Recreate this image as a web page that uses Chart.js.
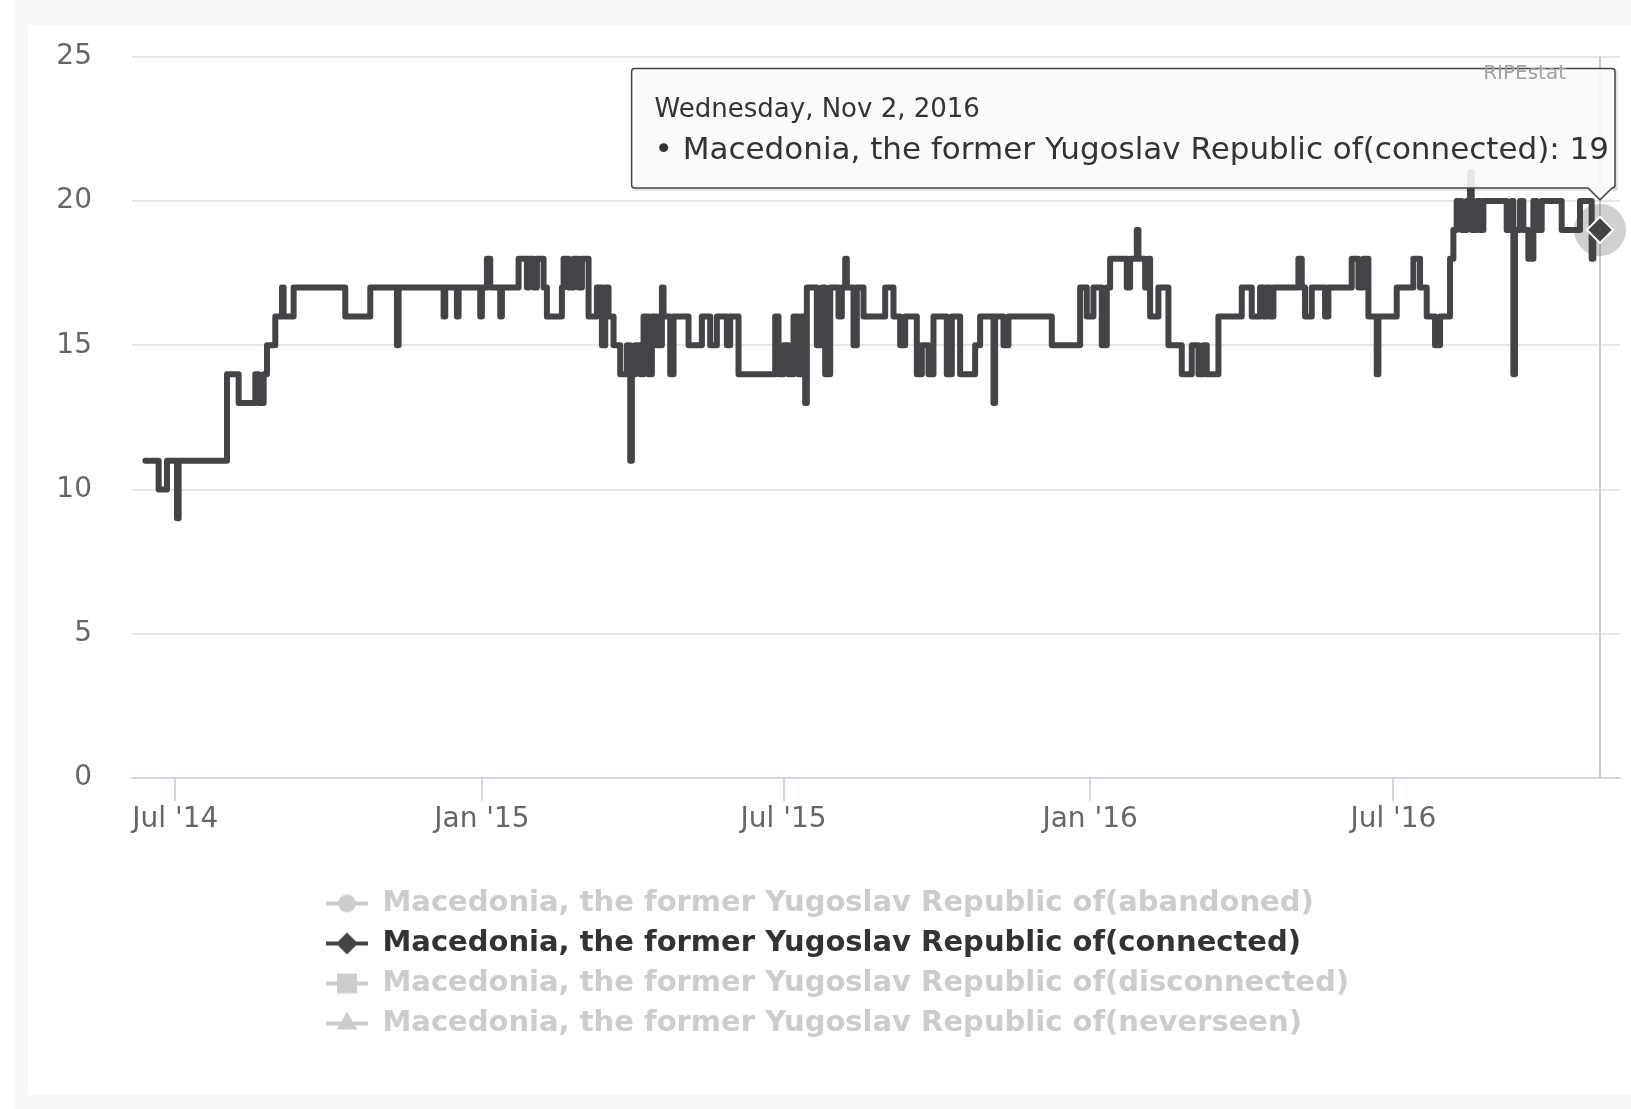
<!DOCTYPE html>
<html>
<head>
<meta charset="utf-8">
<title>Macedonia, the former Yugoslav Republic of - connected</title>
<script src="https://cdn.jsdelivr.net/npm/chart.js@4.4.1/dist/chart.umd.min.js"></script>
<style>
  html, body { margin: 0; padding: 0; background: #fff; overflow: hidden; }
  body { width: 1631px; height: 1109px; position: relative; }
  #frame { position: absolute; left: 15px; top: 0; width: 1700px; height: 1109px; background: #f8f8f8; }
  #panel { position: absolute; left: 28px; top: 25px; width: 1700px; height: 1070px; background: #fff; }
  #chart { position: absolute; left: 0; top: 0; }
</style>
</head>
<body>
<div id="frame"></div>
<div id="panel"></div>
<canvas id="chart" width="1631" height="1048"></canvas>
<script>
const FONT = '"DejaVu Sans", "Liberation Sans", sans-serif';

const seriesNames = [
    'Macedonia, the former Yugoslav Republic of(abandoned)',
    'Macedonia, the former Yugoslav Republic of(connected)',
    'Macedonia, the former Yugoslav Republic of(disconnected)',
    'Macedonia, the former Yugoslav Republic of(neverseen)'
];
const seriesColors = ['#7cb5ec', '#434348', '#90ed7d', '#f7a35c'];
const seriesMarkers = ['circle', 'rectRot', 'rect', 'triangle'];
const seriesHidden = [true, false, true, true];

// connected count: the date each value starts on (held until the next date)
const connectedDates = [
    '2014-06-13','2014-06-21','2014-06-26','2014-07-02','2014-07-03','2014-08-01','2014-08-08','2014-08-18',
    '2014-08-20','2014-08-23','2014-08-25','2014-08-30','2014-09-03','2014-09-04','2014-09-10','2014-10-11',
    '2014-10-26','2014-11-11','2014-11-12','2014-12-09','2014-12-10','2014-12-17','2014-12-18','2014-12-31',
    '2015-01-01','2015-01-04','2015-01-06','2015-01-12','2015-01-13','2015-01-23','2015-01-28','2015-01-29',
    '2015-02-01','2015-02-03','2015-02-07','2015-02-09','2015-02-18','2015-02-19','2015-02-22','2015-02-25',
    '2015-02-28','2015-03-02','2015-03-06','2015-03-11','2015-03-14','2015-03-16','2015-03-18','2015-03-21',
    '2015-03-25','2015-03-29','2015-03-31','2015-04-01','2015-04-03','2015-04-06','2015-04-08','2015-04-11',
    '2015-04-13','2015-04-16','2015-04-19','2015-04-20','2015-04-24','2015-04-26','2015-05-05','2015-05-13',
    '2015-05-18','2015-05-22','2015-05-28','2015-05-30','2015-06-04','2015-06-26','2015-06-28','2015-07-01',
    '2015-07-04','2015-07-07','2015-07-10','2015-07-12','2015-07-14','2015-07-15','2015-07-21','2015-07-24',
    '2015-07-26','2015-07-29','2015-08-03','2015-08-05','2015-08-07','2015-08-08','2015-08-12','2015-08-14',
    '2015-08-18','2015-08-31','2015-09-05','2015-09-09','2015-09-12','2015-09-19','2015-09-22','2015-09-26',
    '2015-09-29','2015-10-07','2015-10-10','2015-10-15','2015-10-24','2015-10-27','2015-11-04','2015-11-05',
    '2015-11-10','2015-11-13','2015-12-09','2015-12-26','2015-12-30','2016-01-03','2016-01-08','2016-01-11',
    '2016-01-13','2016-01-23','2016-01-25','2016-01-29','2016-01-30','2016-02-03','2016-02-05','2016-02-06',
    '2016-02-11','2016-02-17','2016-02-25','2016-03-02','2016-03-06','2016-03-09','2016-03-11','2016-03-18',
    '2016-04-01','2016-04-07','2016-04-12','2016-04-14','2016-04-16','2016-04-18','2016-04-20','2016-05-05',
    '2016-05-07','2016-05-09','2016-05-13','2016-05-21','2016-05-23','2016-06-06','2016-06-10','2016-06-13',
    '2016-06-16','2016-06-21','2016-06-22','2016-07-03','2016-07-13','2016-07-17','2016-07-21','2016-07-26',
    '2016-07-29','2016-08-04','2016-08-06','2016-08-08','2016-08-11','2016-08-14','2016-08-16','2016-08-17',
    '2016-08-20','2016-08-22','2016-08-24','2016-09-07','2016-09-10','2016-09-11','2016-09-12','2016-09-15',
    '2016-09-17','2016-09-20','2016-09-23','2016-09-25','2016-09-28','2016-10-10','2016-10-21','2016-10-28',
    '2016-10-29','2016-11-02'
];
const connectedValues = [
    11,10,11,9,11,14,13,14,
    13,14,15,16,17,16,17,16,
    17,15,17,16,17,16,17,16,
    17,18,17,16,17,18,17,18,
    17,18,17,16,17,18,17,18,
    17,18,16,17,15,17,16,15,
    14,15,11,14,15,14,16,14,
    16,15,17,16,14,16,15,16,
    15,16,15,16,14,16,14,15,
    14,16,14,16,13,17,15,17,
    14,17,16,17,18,17,15,17,
    16,17,16,15,16,14,15,14,
    16,14,16,14,15,16,13,16,
    15,16,15,17,16,17,15,17,
    18,17,18,19,18,17,18,16,
    17,15,14,15,14,15,14,16,
    17,16,17,16,17,16,17,18,
    17,16,17,16,17,18,17,18,
    16,14,16,17,18,17,16,15,
    16,18,19,20,19,20,21,19,
    20,19,20,19,20,14,19,20,
    19,18,20,19,20,19,20,18,
    19,19
];

const tickDates = ['2014-07-01', '2015-01-01', '2015-07-01', '2016-01-01', '2016-07-01'];
const tickLabels = ["Jul '14", "Jan '15", "Jul '15", "Jan '16", "Jul '16"];
const xRange = ['2014-06-05', '2016-11-14'];
const yRange = [0, 25];
const yStep = 5;

const dayNames = ['Sunday', 'Monday', 'Tuesday', 'Wednesday', 'Thursday', 'Friday', 'Saturday'];
const monthNames = ['Jan', 'Feb', 'Mar', 'Apr', 'May', 'Jun', 'Jul', 'Aug', 'Sep', 'Oct', 'Nov', 'Dec'];

const toTime = s => Date.parse(s + 'T00:00:00Z');

function fmtDate(t) {
    const d = new Date(t);
    return dayNames[d.getUTCDay()] + ', ' + monthNames[d.getUTCMonth()] + ' ' + d.getUTCDate() + ', ' + d.getUTCFullYear();
}

// little legend icon: a line with the series marker on it
function legendSymbol(style, color) {
    const c = document.createElement('canvas');
    c.width = 42; c.height = 26;
    const g = c.getContext('2d');
    g.fillStyle = color;
    g.strokeStyle = color;
    g.fillRect(0, 11, 42, 4);
    const radius = {circle: 9, rectRot: 11, rect: 14, triangle: 12}[style];
    Chart.helpers.drawPoint(g, {pointStyle: style, radius: radius, borderWidth: 0}, 21, 13);
    return c;
}

const datasets = seriesNames.map((name, i) => ({
    label: name,
    data: i === 1 ? connectedDates.map((d, k) => ({x: toTime(d), y: connectedValues[k]})) : [],
    hidden: seriesHidden[i],
    borderColor: seriesColors[i],
    backgroundColor: seriesColors[i],
    borderWidth: 6,
    borderJoinStyle: 'round',
    borderCapStyle: 'round',
    stepped: true,
    pointStyle: seriesMarkers[i],
    pointRadius: 0,
    pointHoverRadius: 13,
    pointHoverBackgroundColor: seriesColors[i],
    pointHoverBorderColor: '#ffffff',
    pointHoverBorderWidth: 2
}));

const legendLeft = {
    id: 'legendLeft',
    afterLayout(chart) {
        if (chart.legend) chart.legend.left = 315;
    }
};

const hoverDecor = {
    id: 'hoverDecor',
    beforeDatasetsDraw(chart) {
        const active = chart.getActiveElements();
        if (!active.length) return;
        const el = active[0].element;
        const {ctx, chartArea} = chart;
        ctx.save();
        ctx.strokeStyle = '#cccccc';
        ctx.lineWidth = 2;
        ctx.beginPath();
        ctx.moveTo(el.x, chartArea.top);
        ctx.lineTo(el.x, chartArea.bottom);
        ctx.stroke();
        ctx.restore();
    },
    afterDatasetsDraw(chart) {
        const active = chart.getActiveElements();
        if (!active.length) return;
        const el = active[0].element;
        const {ctx, chartArea} = chart;
        ctx.save();
        ctx.fillStyle = 'rgba(67,67,72,0.25)';
        ctx.beginPath();
        ctx.arc(el.x, el.y, 26, 0, Math.PI * 2);
        ctx.fill();
        ctx.restore();
        el.draw(ctx, chartArea);
    },
    beforeTooltipDraw(chart, args) {
        const tt = args.tooltip;
        if (!tt.opacity) return;
        const ctx = chart.ctx;
        ctx.save();
        ctx.fillStyle = 'rgba(0,0,0,0.10)';
        ctx.fillRect(tt.x + 2, tt.y + tt.height, tt.width, 3);
        ctx.fillRect(tt.x + tt.width, tt.y + 2, 3, tt.height);
        ctx.restore();
    },
    afterDraw(chart) {
        // credits label, drawn last like the original
        const {ctx, chartArea} = chart;
        ctx.save();
        ctx.font = '20px ' + FONT;
        ctx.fillStyle = '#a0a0a0';
        ctx.textAlign = 'right';
        ctx.textBaseline = 'alphabetic';
        ctx.fillText('RIPEstat', chartArea.right - 54, 79);
        ctx.restore();
    }
};

const chart = new Chart(document.getElementById('chart'), {
    type: 'line',
    data: { datasets: datasets },
    options: {
        responsive: false,
        animation: false,
        events: [],
        layout: { padding: { top: 52, right: 11, left: 0, bottom: 0 } },
        scales: {
            x: {
                type: 'linear',
                min: toTime(xRange[0]),
                max: toTime(xRange[1]),
                afterBuildTicks: scale => { scale.ticks = tickDates.map(d => ({value: toTime(d)})); },
                afterFit: scale => { scale.height = 100; },
                grid: { drawOnChartArea: false, drawTicks: true, tickLength: 23, color: '#ccd6eb', lineWidth: 2 },
                border: { color: '#ccd6eb', width: 2 },
                ticks: {
                    autoSkip: false,
                    maxRotation: 0,
                    padding: 2,
                    color: '#666666',
                    font: { family: FONT, size: 28 },
                    callback: (v, i) => tickLabels[i]
                }
            },
            y: {
                min: yRange[0],
                max: yRange[1],
                afterFit: scale => { scale.width = 132; },
                grid: {
                    drawTicks: false,
                    lineWidth: 2,
                    color: c => c.tick && c.tick.value === 0 ? 'rgba(0,0,0,0)' : '#e6e6e6'
                },
                border: { display: false },
                ticks: {
                    stepSize: yStep,
                    padding: 40,
                    color: '#666666',
                    font: { family: FONT, size: 28 }
                }
            }
        },
        plugins: {
            legend: {
                position: 'bottom',
                align: 'start',
                labels: {
                    usePointStyle: true,
                    pointStyleWidth: 42,
                    padding: 11,
                    font: { family: FONT, size: 29, weight: 'bold' },
                    generateLabels: ch => ch.data.datasets.map((ds, i) => {
                        const on = ch.isDatasetVisible(i);
                        return {
                            text: ds.label,
                            datasetIndex: i,
                            hidden: false,
                            fontColor: on ? '#333333' : '#cccccc',
                            fillStyle: on ? seriesColors[i] : '#cccccc',
                            strokeStyle: on ? seriesColors[i] : '#cccccc',
                            lineWidth: 0,
                            pointStyle: legendSymbol(seriesMarkers[i], on ? seriesColors[i] : '#cccccc')
                        };
                    })
                }
            },
            tooltip: {
                enabled: true,
                xAlign: 'right',
                yAlign: 'bottom',
                backgroundColor: 'rgba(249,249,249,0.9)',
                borderColor: '#434348',
                borderWidth: 1.5,
                cornerRadius: 3,
                caretSize: 12,
                caretPadding: 30,
                padding: { top: 26, right: 6, bottom: 18, left: 23 },
                displayColors: false,
                titleColor: '#333333',
                bodyColor: '#333333',
                titleFont: { family: FONT, size: 26, weight: 'normal' },
                bodyFont: { family: FONT, size: 31 },
                titleMarginBottom: 7,
                callbacks: {
                    title: items => fmtDate(items[0].parsed.x),
                    label: item => '\u2022 ' + item.dataset.label + ': ' + item.parsed.y
                }
            }
        }
    },
    plugins: [legendLeft, hoverDecor]
});

const lastIndex = connectedValues.length - 1;
chart.setActiveElements([{datasetIndex: 1, index: lastIndex}]);
chart.tooltip.setActiveElements([{datasetIndex: 1, index: lastIndex}], {x: 0, y: 0});
chart.update();
</script>
</body>
</html>
